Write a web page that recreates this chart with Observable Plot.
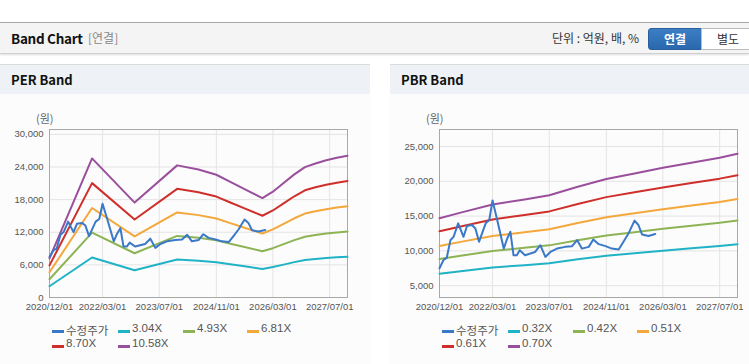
<!DOCTYPE html>
<html><head><meta charset="utf-8">
<script src="https://cdn.jsdelivr.net/npm/d3@7"></script>
<script src="https://cdn.jsdelivr.net/npm/@observablehq/plot@0.6"></script>
<style>
html,body{margin:0;padding:0;background:#fff;width:749px;height:364px;overflow:hidden;font-family:"Noto Sans CJK KR","Liberation Sans",sans-serif;}
.abs{position:absolute;}
#top{left:0;top:22px;width:749px;height:30px;background:#f4f4f4;border-top:1px solid #a9a9a9;border-bottom:1px solid #cfcfcf;box-shadow:0 1px 2px #ddd;}
.panel{top:64px;width:370px;height:299px;background:#fcfcfc;border-top:1px solid #dcdcdc;border-bottom:1px solid #cfcfcf;}
.phead{left:0;top:0;width:370px;height:29px;background:#eef1f5;}
.ptitle{left:11px;top:5px;font-size:13px;font-weight:bold;color:#111;}
.unit{font-size:11px;color:#666;}
.leg{font-size:11.5px;color:#555;font-family:"Liberation Sans","Noto Sans CJK KR",sans-serif;white-space:nowrap;}
.sw{position:absolute;width:12px;height:3px;top:8px;left:0;}
.lt{position:absolute;left:14px;top:0;}
</style></head>
<body>
<div id="top" class="abs">
  <div class="abs" style="left:11px;top:5px;font-size:13.5px;font-weight:bold;color:#111;letter-spacing:-0.3px">Band Chart</div>
  <div class="abs" style="left:88px;top:6px;font-size:12px;color:#888;">[연결]</div>
  <div class="abs" style="left:552px;top:6px;font-size:12px;color:#333;">단위 : 억원, 배, %</div>
  <div class="abs" style="left:648px;top:5px;width:52px;height:20px;background:linear-gradient(#3b7ec4,#2b68ad);border:1px solid #2a5f9e;border-radius:3px 0 0 3px;color:#fff;font-size:12px;font-weight:bold;text-align:center;line-height:20px;">연결</div>
  <div class="abs" style="left:701px;top:5px;width:52px;height:20px;background:#fff;border:1px solid #bbb;color:#333;font-size:12px;text-align:center;line-height:20px;">별도</div>
</div>
<div id="perPanel" class="abs panel" style="left:0;">
  <div class="abs phead"></div>
  <div class="abs ptitle">PER Band</div>
  <div class="abs unit" style="left:36px;top:45px;">(원)</div>
</div>
<div id="pbrPanel" class="abs panel" style="left:390px;">
  <div class="abs phead"></div>
  <div class="abs ptitle">PBR Band</div>
  <div class="abs unit" style="left:36px;top:45px;">(원)</div>
</div>
<script>
// ---- data ----
const xTickLabels = ["2020/12/01","2022/03/01","2023/07/01","2024/11/01","2026/03/01","2027/07/01"];
const xDomain = ["2020-12-01","2027-12-01"];
const perYTicks = [0,6000,12000,18000,24000,30000];
const pbrYTicks = [5000,10000,15000,20000,25000];

const priceDates = ["2020-12-01","2021-01-05","2021-02-01","2021-03-05","2021-04-01","2021-05-10","2021-06-25","2021-07-25","2021-09-05","2021-10-05","2021-11-05","2022-01-01","2022-02-01","2022-03-01","2022-04-10","2022-06-05","2022-07-05","2022-08-01","2022-08-28","2022-09-25","2022-10-20","2022-12-05","2023-03-01","2023-04-15","2023-05-28","2023-07-10","2023-09-05","2023-11-15","2024-01-12","2024-02-25","2024-04-05","2024-06-03","2024-07-12","2024-08-28","2024-10-25","2024-12-18","2025-02-15","2025-03-28","2025-05-10","2025-07-01","2025-08-03","2025-09-03","2025-10-28","2025-12-25"];
const priceValues = [7500,8700,9000,11550,12030,13960,12030,13580,13720,13230,11300,13960,14450,17250,14450,10330,11780,12750,9370,9370,10100,9370,9850,10820,9130,9850,10330,10580,10680,11550,10330,10580,11640,10970,10680,10330,10190,11300,12510,14350,13720,12360,12130,12420];

const perBandDates = ["2020-12-01","2021-12-01","2022-12-01","2023-12-01","2024-06-01","2024-11-01","2025-03-01","2025-07-01","2025-12-01","2026-03-01","2026-06-01","2026-09-01","2026-12-01","2027-03-01","2027-06-01","2027-09-01","2027-12-01"];
const per304 = [2067,7351,5016,6983,6764,6487,6107,5727,5253,5594,6050,6506,6892,7083,7250,7381,7491];
const per493 = [3352,11921,8135,11324,10969,10521,9904,9288,8519,9071,9811,10550,11176,11487,11758,11970,12148];
const per681 = [4631,16467,11237,15643,15152,14533,13681,12830,11768,12530,13552,14573,15438,15867,16242,16535,16780];
const per870 = [5916,21037,14355,19984,19358,18566,17478,16391,15034,16008,17313,18618,19723,20271,20750,21124,21437];
const per1058 = [7194,25582,17457,24302,23541,22578,21255,19933,18282,19467,21054,22641,23985,24651,25233,25688,26069];
const perLabels = ["수정주가","3.04X","4.93X","6.81X","8.70X","10.58X"];

const pbrBandDates = ["2020-12-01","2021-06-01","2022-03-01","2022-12-01","2023-07-01","2024-03-01","2024-11-01","2025-07-01","2026-03-01","2026-11-01","2027-07-01","2027-12-01"];
const pbr032 = [6720,7088,7616,7952,8224,8784,9299,9664,10032,10368,10694,10954];
const pbr042 = [8820,9303,9996,10437,10794,11529,12205,12684,13167,13608,14036,14377];
const pbr051 = [10710,11297,12138,12674,13107,14000,14821,15402,15989,16524,17044,17457];
const pbr061 = [12810,13512,14518,15159,15677,16745,17727,18422,19124,19764,20386,20880];
const pbr070 = [14700,15505,16660,17395,17990,19215,20342,21140,21945,22680,23394,23961];
const pbrLabels = ["수정주가","0.32X","0.42X","0.51X","0.61X","0.70X"];

const colors = ["#3a78c8","#20b2c5","#8db454","#f4a73b","#cf2f2b","#9a4f9c"];

// ---- build ----
const parse = s => new Date(s + "T00:00:00Z");
const price = priceDates.map((d,i)=>({date:parse(d), v:priceValues[i]}));
function bandRows(dates, arrs){
  return arrs.map((a,k)=>dates.map((d,i)=>({date:parse(d), v:a[i], k})));
}
const xTicks = xTickLabels.map(s=>parse(s.replace(/\//g,"-")));

function chart(bands, yDomain, yTicks){
  const marks = [
    Plot.ruleX(xTicks, {stroke:"#e4e4e4"}),
    Plot.ruleY(yTicks, {stroke:"#e4e4e4"}),
    Plot.frame({stroke:"#a8a8a8"})
  ];
  bands.forEach((rows,k)=>marks.push(Plot.line(rows,{x:"date",y:"v",stroke:colors[k+1],strokeWidth:2})));
  marks.push(Plot.line(price,{x:"date",y:"v",stroke:colors[0],strokeWidth:2}));
  return Plot.plot({
    width:370, height:215,
    marginLeft:49, marginRight:23, marginTop:28, marginBottom:19,
    style:{background:"transparent", fontSize:"9.5px", fontFamily:"'Liberation Sans',sans-serif", color:"#555", overflow:"visible"},
    x:{type:"utc", domain:xDomain.map(parse), ticks:xTicks, tickFormat:d3.utcFormat("%Y/%m/%d"), tickSize:0, tickPadding:6, label:null},
    y:{domain:yDomain, ticks:yTicks, tickFormat:d3.format(","), tickSize:0, tickPadding:6, label:null},
    marks
  });
}
function legend(panel, labels){
  const pos = [[52,257],[118,257],[183,257],[247,257],[52,272],[118,272]];
  labels.forEach((t,i)=>{
    const d = document.createElement("div");
    d.className="abs leg";
    d.style.left = pos[i][0]+"px"; d.style.top = pos[i][1]+"px";
    d.innerHTML = `<div class="sw" style="background:${colors[i]}"></div><div class="lt">${t}</div>`;
    panel.appendChild(d);
  });
}
const perSvg = chart(bandRows(perBandDates,[per304,per493,per681,per870,per1058]), [0,30900], perYTicks);
perSvg.style.position="absolute"; perSvg.style.left="0px"; perSvg.style.top="36px";
document.getElementById("perPanel").appendChild(perSvg);
legend(document.getElementById("perPanel"), perLabels);

const pbrSvg = chart(bandRows(pbrBandDates,[pbr032,pbr042,pbr051,pbr061,pbr070]), [3300,27450], pbrYTicks);
pbrSvg.style.position="absolute"; pbrSvg.style.left="0px"; pbrSvg.style.top="36px";
document.getElementById("pbrPanel").appendChild(pbrSvg);
legend(document.getElementById("pbrPanel"), pbrLabels);
</script>
</body></html>
